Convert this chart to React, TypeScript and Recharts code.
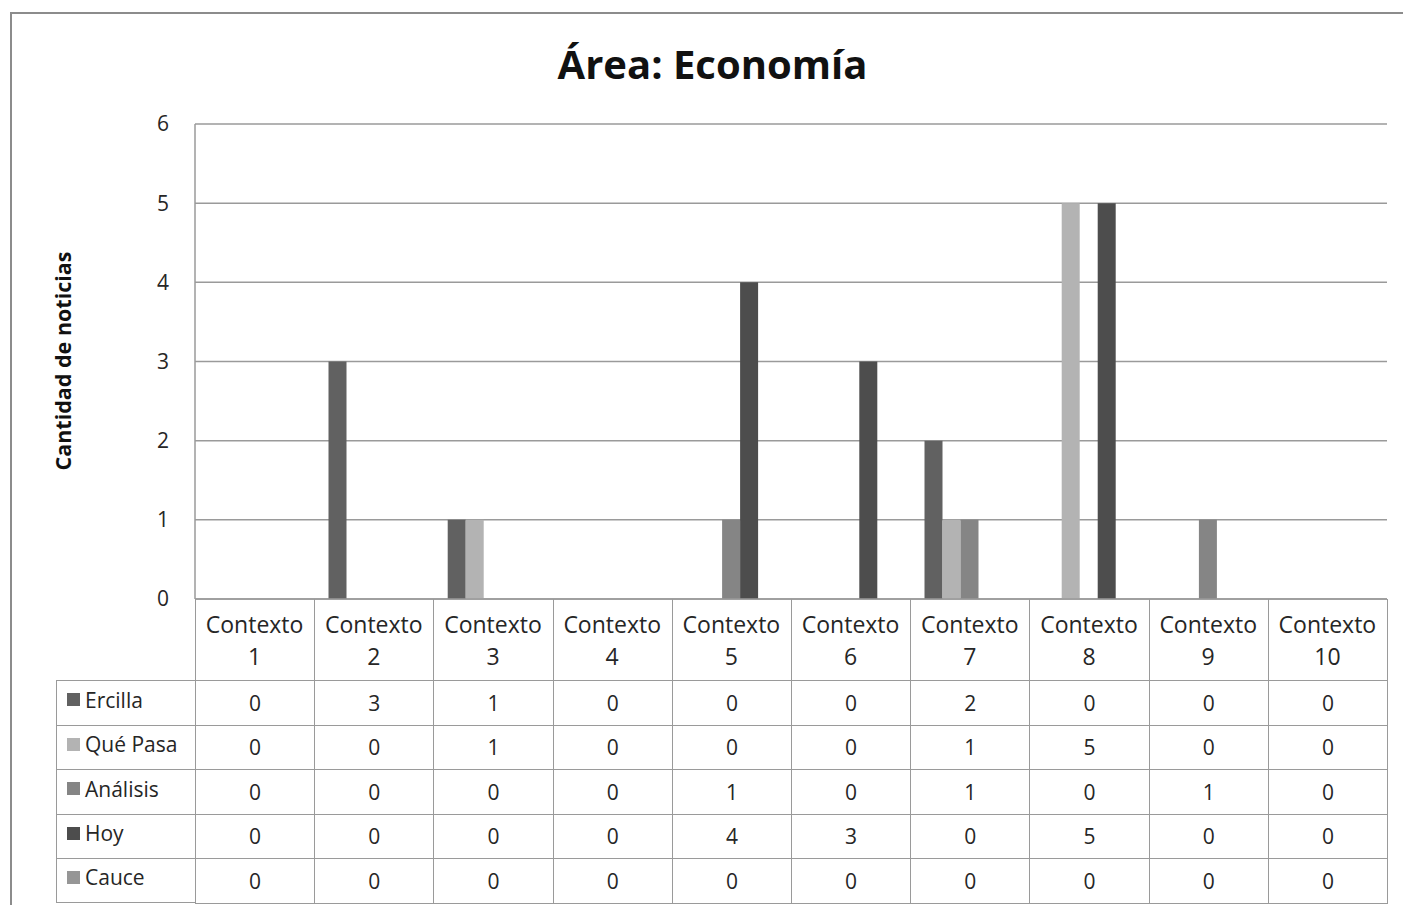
import React from "react";
import { BarChart, Bar, XAxis, YAxis, CartesianGrid } from "recharts";

const categories = [
  "Contexto 1",
  "Contexto 2",
  "Contexto 3",
  "Contexto 4",
  "Contexto 5",
  "Contexto 6",
  "Contexto 7",
  "Contexto 8",
  "Contexto 9",
  "Contexto 10",
];

const ercilla = [0, 3, 1, 0, 0, 0, 2, 0, 0, 0];
const quePasa = [0, 0, 1, 0, 0, 0, 1, 5, 0, 0];
const analisis = [0, 0, 0, 0, 1, 0, 1, 0, 1, 0];
const hoy = [0, 0, 0, 0, 4, 3, 0, 5, 0, 0];
const cauce = [0, 0, 0, 0, 0, 0, 0, 0, 0, 0];

const yTicks = [0, 1, 2, 3, 4, 5, 6];

const SERIES = [
  { key: "ercilla", name: "Ercilla", values: ercilla, color: "#616161" },
  { key: "quePasa", name: "Qué Pasa", values: quePasa, color: "#b3b3b3" },
  { key: "analisis", name: "Análisis", values: analisis, color: "#858585" },
  { key: "hoy", name: "Hoy", values: hoy, color: "#4d4d4d" },
  { key: "cauce", name: "Cauce", values: cauce, color: "#969696" },
];

const data = categories.map((c, i) => {
  const row: any = { name: c };
  SERIES.forEach((s) => (row[s.key] = s.values[i]));
  return row;
});

const FONT = "'Open Sans', 'Noto Sans', sans-serif";
const LINE = "#9a9a9a";
const TEXT = "#262626";

// layout
const W = 1403;
const H = 905;
const PLOT_L = 195;
const PLOT_R = 1387;
const PLOT_T = 124;
const PLOT_B = 599;
const HEAD_B = 680;
const ROW_H = 44.5;
const LABEL_L = 56;
const COL_W = (PLOT_R - PLOT_L) / categories.length;

const ContextTick = (props: any) => {
  const { x, y, payload } = props;
  const [a, b] = String(payload.value).split(" ");
  return (
    <g>
      <text x={x} y={y + 26} textAnchor="middle" fill={TEXT} fontSize={23} fontFamily={FONT}>
        {a}
      </text>
      <text x={x} y={y + 58} textAnchor="middle" fill={TEXT} fontSize={23} fontFamily={FONT}>
        {b}
      </text>
    </g>
  );
};

export default function App() {
  const cells: React.ReactNode[] = [];

  // header row vertical separators
  for (let i = 0; i <= categories.length; i++) {
    cells.push(
      <div
        key={`hv-${i}`}
        style={{
          position: "absolute",
          left: PLOT_L + i * COL_W,
          top: PLOT_B,
          width: 1,
          height: HEAD_B - PLOT_B,
          background: LINE,
        }}
      />
    );
  }

  SERIES.forEach((s, r) => {
    const top = HEAD_B + r * ROW_H;
    cells.push(
      <div
        key={`lab-${r}`}
        style={{
          position: "absolute",
          left: LABEL_L,
          top,
          width: PLOT_L - LABEL_L,
          height: ROW_H,
          borderLeft: `1px solid ${LINE}`,
          borderTop: `1px solid ${LINE}`,
          borderBottom: r === SERIES.length - 1 ? `1px solid ${LINE}` : undefined,
          boxSizing: "border-box",
          display: "flex",
          alignItems: "center",
          fontFamily: FONT,
          fontSize: 21,
          color: TEXT,
        }}
      >
        <span
          style={{
            display: "inline-block",
            width: 13,
            height: 13,
            background: s.color,
            marginLeft: 10,
            marginRight: 5,
            marginTop: -6,
          }}
        />
        <span style={{ marginTop: -6 }}>{s.name}</span>
      </div>
    );
    s.values.forEach((v, c) => {
      cells.push(
        <div
          key={`c-${r}-${c}`}
          style={{
            position: "absolute",
            left: PLOT_L + c * COL_W,
            top,
            width: COL_W + 1,
            height: ROW_H + (r === SERIES.length - 1 ? 1 : 0),
            border: `1px solid ${LINE}`,
            borderBottom: r === SERIES.length - 1 ? `1px solid ${LINE}` : "none",
            boxSizing: "border-box",
            display: "flex",
            alignItems: "center",
            justifyContent: "center",
            fontFamily: FONT,
            fontSize: 21,
            color: TEXT,
          }}
        >
          {v}
        </div>
      );
    });
  });

  return (
    <div style={{ position: "absolute", left: 0, top: 0, width: W, height: H, background: "#fff", overflow: "hidden" }}>
      <div
        style={{
          position: "absolute",
          left: 10,
          top: 12,
          width: W + 20,
          height: H,
          border: "2px solid #8c8c8c",
          boxSizing: "border-box",
        }}
      />
      <div
        style={{
          position: "absolute",
          left: 0,
          width: 1425,
          top: 36,
          textAlign: "center",
          fontFamily: FONT,
          fontWeight: 700,
          fontSize: 40,
          color: "#111",
          lineHeight: "56px",
        }}
      >
        Área: Economía
      </div>
      <div
        style={{
          position: "absolute",
          left: 62,
          top: 361,
          transform: "translate(-50%, -50%) rotate(-90deg)",
          whiteSpace: "nowrap",
          fontFamily: FONT,
          fontWeight: 700,
          fontSize: 21.5,
          color: "#111",
        }}
      >
        Cantidad de noticias
      </div>
      <div style={{ position: "absolute", left: 0, top: 0 }}>
        <BarChart
          width={W}
          height={H}
          data={data}
          margin={{ top: PLOT_T, right: W - PLOT_R, left: PLOT_L - 60, bottom: H - HEAD_B }}
          barCategoryGap="12%"
          barGap={0}
        >
          <CartesianGrid vertical={false} stroke={LINE} strokeWidth={1.5} />
          <XAxis
            dataKey="name"
            axisLine={{ stroke: LINE, strokeWidth: 1.5 }}
            tickLine={false}
            height={HEAD_B - PLOT_B}
            tick={<ContextTick />}
            interval={0}
          />
          <YAxis
            domain={[0, 6]}
            ticks={yTicks}
            width={60}
            axisLine={{ stroke: LINE, strokeWidth: 1.5 }}
            tickLine={false}
            tick={{ fill: TEXT, fontSize: 21, fontFamily: FONT }}
            tickMargin={20}
            interval={0}
          />
          {SERIES.map((s) => (
            <Bar key={s.key} dataKey={s.key} name={s.name} fill={s.color} isAnimationActive={false} />
          ))}
        </BarChart>
      </div>
      {cells}
    </div>
  );
}
